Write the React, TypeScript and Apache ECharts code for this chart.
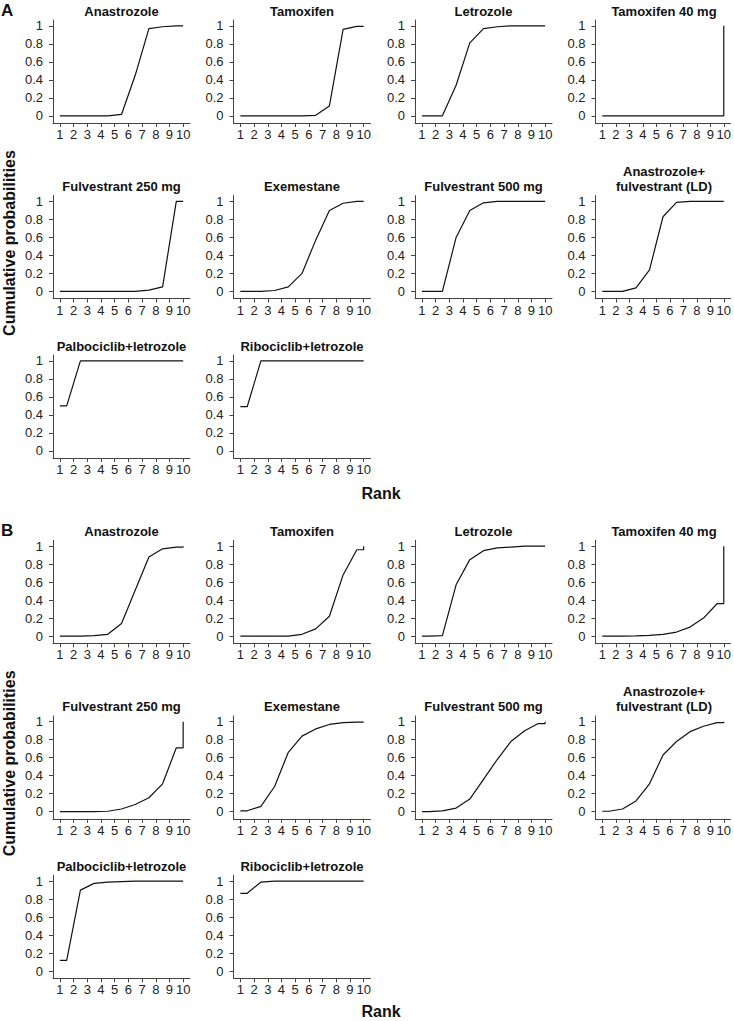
import React, { useEffect, useRef } from "react";
import * as echarts from "echarts";

// ---- Data ----
const ranks = [1, 2, 3, 4, 5, 6, 7, 8, 9, 10];
const yTicks = [0, 0.2, 0.4, 0.6, 0.8, 1];
const treatments = [
  "Anastrozole",
  "Tamoxifen",
  "Letrozole",
  "Tamoxifen 40 mg",
  "Fulvestrant 250 mg",
  "Exemestane",
  "Fulvestrant 500 mg",
  "Anastrozole+\nfulvestrant (LD)",
  "Palbociclib+letrozole",
  "Ribociclib+letrozole",
];
const sectionLabels = ["A", "B"];

// Cumulative probabilities by rank 1..10 — panel A
const anastrozoleA = [0, 0, 0, 0, 0.015, 0.45, 0.97, 0.99, 1, 1];
const tamoxifenA = [0, 0, 0, 0, 0, 0.005, 0.11, 0.96, 0.995, 1];
const letrozoleA = [0, 0, 0.34, 0.81, 0.97, 0.99, 1, 1, 1, 1];
const tamoxifen40A = [0, 0, 0, 0, 0, 0, 0, 0, 0, 1];
const fulvestrant250A = [0, 0, 0, 0, 0, 0, 0.015, 0.05, 1, 1];
const exemestaneA = [0, 0, 0.01, 0.05, 0.2, 0.57, 0.9, 0.98, 1, 1];
const fulvestrant500A = [0, 0, 0.6, 0.9, 0.985, 1, 1, 1, 1, 1];
const anaFulvA = [0, 0, 0.04, 0.24, 0.83, 0.99, 1, 1, 1, 1];
const palbociclibA = [0.5, 1, 1, 1, 1, 1, 1, 1, 1, 1];
const ribociclibA = [0.49, 1, 1, 1, 1, 1, 1, 1, 1, 1];

// Panel B
const anastrozoleB = [0, 0, 0.005, 0.02, 0.14, 0.51, 0.88, 0.97, 0.99, 1];
const tamoxifenB = [0, 0, 0, 0, 0.02, 0.08, 0.22, 0.68, 0.96, 1];
const letrozoleB = [0, 0.005, 0.57, 0.85, 0.95, 0.98, 0.99, 1, 1, 1];
const tamoxifen40B = [0, 0, 0.002, 0.008, 0.02, 0.045, 0.1, 0.2, 0.36, 1];
const fulvestrant250B = [0, 0, 0, 0.005, 0.03, 0.08, 0.155, 0.31, 0.71, 1];
const exemestaneB = [0.01, 0.06, 0.28, 0.66, 0.84, 0.92, 0.97, 0.99, 0.995, 1];
const fulvestrant500B = [0, 0.01, 0.04, 0.14, 0.36, 0.58, 0.78, 0.9, 0.98, 1];
const anaFulvB = [0.005, 0.03, 0.12, 0.31, 0.63, 0.78, 0.89, 0.95, 0.99, 1];
const palbociclibB = [0.12, 0.9, 0.975, 0.99, 0.995, 1, 1, 1, 1, 1];
const ribociclibB = [0.865, 0.99, 1, 1, 1, 1, 1, 1, 1, 1];

const panelsA = [
  anastrozoleA, tamoxifenA, letrozoleA, tamoxifen40A, fulvestrant250A,
  exemestaneA, fulvestrant500A, anaFulvA, palbociclibA, ribociclibA,
];
const panelsB = [
  anastrozoleB, tamoxifenB, letrozoleB, tamoxifen40B, fulvestrant250B,
  exemestaneB, fulvestrant500B, anaFulvB, palbociclibB, ribociclibB,
];

// ---- Layout ----
const FONT = '"Liberation Sans", Arial, Helvetica, sans-serif';
const colLeft = [53, 233.5, 415, 595.5];
const rowTop = [20, 195.6, 355];
const sectionOffset = [0, 520.3];
const rankY = [493, 1011];
const gridW = 137;
const gridH = 103;

function stepPoints(c: number[]) {
  const n = ranks.length;
  const pts: number[][] = [[ranks[0], c[0]]];
  for (let i = 0; i < n - 1; i++) pts.push([ranks[i] + 0.5, c[i]]);
  pts.push([ranks[n - 1], c[n - 2]]);
  pts.push([ranks[n - 1], c[n - 1]]);
  return pts;
}

function buildOption() {
  const grid: any[] = [];
  const xAxis: any[] = [];
  const yAxis: any[] = [];
  const series: any[] = [];
  const graphic: any[] = [];
  const axisColor = "#444";
  const labelColor = "#222";

  [panelsA, panelsB].forEach((panels, s) => {
    panels.forEach((vals, p) => {
      const row = Math.floor(p / 4);
      const col = p % 4;
      const left = colLeft[col];
      const top = rowTop[row] + sectionOffset[s];
      const idx = grid.length;
      grid.push({ left, top, width: gridW, height: gridH, containLabel: false });
      xAxis.push({
        type: "value",
        gridIndex: idx,
        min: 0.5,
        max: 10.5,
        splitLine: { show: false },
        axisLine: { show: true, onZero: false, lineStyle: { color: axisColor, width: 1 } },
        axisTick: { show: true, length: 4, customValues: ranks, lineStyle: { color: axisColor } },
        axisLabel: {
          customValues: ranks,
          margin: 5,
          color: labelColor,
          fontSize: 13,
          fontFamily: FONT,
          formatter: (v: number) => String(v),
        },
      });
      yAxis.push({
        type: "value",
        gridIndex: idx,
        min: -0.08,
        max: 1.065,
        splitLine: { show: false },
        axisLine: { show: true, onZero: false, lineStyle: { color: axisColor, width: 1 } },
        axisTick: { show: true, length: 4, customValues: yTicks, lineStyle: { color: axisColor } },
        axisLabel: {
          customValues: yTicks,
          margin: 10,
          color: labelColor,
          fontSize: 13,
          fontFamily: FONT,
          formatter: (v: number) => String(Math.round(v * 10) / 10),
        },
      });
      series.push({
        type: "line",
        xAxisIndex: idx,
        yAxisIndex: idx,
        data: stepPoints(vals),
        showSymbol: false,
        symbol: "none",
        lineStyle: { color: "#111", width: 1.2 },
        silent: true,
      });
      graphic.push({
        type: "text",
        x: left + gridW / 2,
        y: top - 1.5,
        style: {
          text: treatments[p],
          font: `bold 13px ${FONT}`,
          fill: "#111",
          align: "center",
          verticalAlign: "bottom",
          lineHeight: 15,
        },
      });
    });

    const off = sectionOffset[s];
    graphic.push({
      type: "text",
      x: 1,
      y: 10 + off,
      style: {
        text: sectionLabels[s],
        font: `bold 17px ${FONT}`,
        fill: "#111",
        align: "left",
        verticalAlign: "middle",
      },
    });
    graphic.push({
      type: "text",
      x: 9,
      y: 243 + off,
      rotation: Math.PI / 2,
      style: {
        text: "Cumulative probabilities",
        font: `bold 16px ${FONT}`,
        fill: "#111",
        align: "center",
        verticalAlign: "middle",
      },
    });
    graphic.push({
      type: "text",
      x: 381,
      y: rankY[s],
      style: {
        text: "Rank",
        font: `bold 16px ${FONT}`,
        fill: "#111",
        align: "center",
        verticalAlign: "middle",
      },
    });
  });

  return {
    animation: false,
    backgroundColor: "#fff",
    grid,
    xAxis,
    yAxis,
    series,
    graphic,
  };
}

export default function App() {
  const ref = useRef<HTMLDivElement>(null);
  useEffect(() => {
    if (!ref.current) return;
    const chart = echarts.init(ref.current, undefined, { renderer: "svg" });
    chart.setOption(buildOption() as any);
    return () => chart.dispose();
  }, []);
  return (
    <div
      ref={ref}
      style={{ position: "absolute", left: 0, top: 0, width: 734, height: 1021 }}
    />
  );
}
